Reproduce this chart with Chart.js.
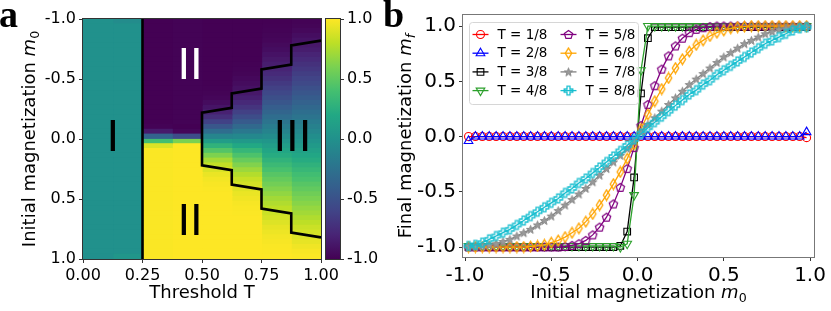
<!DOCTYPE html>
<html>
<head>
<meta charset="utf-8">
<script src="https://cdn.jsdelivr.net/npm/chart.js@4.4.0/dist/chart.umd.min.js"></script>
<style>
  body { margin: 0; background: #fff; width: 831px; height: 311px; overflow: hidden; position: relative; }
  canvas { position: absolute; top: 0; }
</style>
</head>
<body>
<canvas id="heat" width="346" height="311" style="left:0"></canvas>
<canvas id="cbar" width="56" height="311" style="left:324px"></canvas>
<canvas id="curves" width="451" height="311" style="left:380px"></canvas>
<script>
// initial magnetization m0 (rows of the map, x of the curves)
const m0 = [-0.98, -0.94, -0.90, -0.86, -0.82, -0.78, -0.74, -0.70, -0.66, -0.62,
  -0.58, -0.54, -0.50, -0.46, -0.42, -0.38, -0.34, -0.30, -0.26, -0.22,
  -0.18, -0.14, -0.10, -0.06, -0.02, 0.02, 0.06, 0.10, 0.14, 0.18,
  0.22, 0.26, 0.30, 0.34, 0.38, 0.42, 0.46, 0.50, 0.54, 0.58,
  0.62, 0.66, 0.70, 0.74, 0.78, 0.82, 0.86, 0.90, 0.94, 0.98]

const tValues = [1 / 8, 2 / 8, 3 / 8, 4 / 8, 5 / 8, 6 / 8, 7 / 8, 8 / 8]
const tLabels = ['T = 1/8', 'T = 2/8', 'T = 3/8', 'T = 4/8', 'T = 5/8', 'T = 6/8', 'T = 7/8', 'T = 8/8']

// final magnetization mf for each threshold
const mfT1 = [0, 0, 0, 0, 0, 0, 0, 0, 0, 0, 0, 0, 0, 0, 0, 0, 0, 0, 0, 0, 0, 0, 0, 0, 0,
  0, 0, 0, 0, 0, 0, 0, 0, 0, 0, 0, 0, 0, 0, 0, 0, 0, 0, 0, 0, 0, 0, 0, 0, -0.01]
const mfT2 = [-0.04, 0, 0, 0, 0, 0, 0, 0, 0, 0, 0, 0, 0, 0, 0, 0, 0, 0, 0, 0, 0, 0, 0, 0, 0,
  0, 0, 0, 0, 0, 0, 0, 0, 0, 0, 0, 0, 0, 0, 0, 0, 0, 0, 0, 0, 0, 0, 0, 0, 0.04]
const mfT3 = [-1, -1, -1, -1, -1, -1, -1, -1, -1, -1, -1, -1, -1, -1, -1, -1, -1, -1, -1, -1,
  -1, -1, -0.99, -0.86, -0.37, 0.39, 0.89, 0.99, 0.99, 0.99,
  0.99, 0.99, 0.99, 0.99, 0.99, 0.99, 0.99, 0.99, 0.99, 0.99,
  0.99, 0.99, 0.99, 0.99, 0.99, 0.99, 0.99, 0.99, 0.99, 0.99]
const mfT4 = [-0.99, -0.99, -0.99, -0.99, -0.99, -0.99, -0.99, -0.99, -0.99, -0.99,
  -0.99, -0.99, -0.99, -0.99, -0.99, -0.99, -0.99, -0.99, -0.99, -0.99,
  -0.99, -0.99, -1, -0.97, -0.53, 0.60, 1, 1, 1, 1,
  1, 1, 1, 1, 1, 1, 1, 1, 1, 1, 1, 1, 1, 1, 1, 1, 1, 1, 1, 1]
const mfT5 = [-1, -1, -1, -1, -1, -1, -1, -1, -1, -1, -1, -1, -1, -1,
  -0.995, -0.985, -0.97, -0.94, -0.89, -0.82, -0.73, -0.61, -0.46, -0.29, -0.10,
  0.10, 0.29, 0.46, 0.61, 0.73, 0.82, 0.89, 0.94, 0.97, 0.985, 0.995,
  1, 1, 1, 1, 1, 1, 1, 1, 1, 1, 1, 1, 1, 1]
const mfT6 = [-1, -1, -1, -1, -1, -1, -1, -1, -1,
  -0.995, -0.99, -0.98, -0.96, -0.94, -0.91, -0.87, -0.83, -0.77, -0.70, -0.62, -0.53, -0.43, -0.32, -0.20, -0.07,
  0.07, 0.20, 0.32, 0.43, 0.53, 0.62, 0.70, 0.77, 0.83, 0.87, 0.91, 0.94, 0.96, 0.98, 0.99, 0.995,
  1, 1, 1, 1, 1, 1, 1, 1, 1]
const mfT7 = [-1, -0.995, -0.99, -0.98, -0.97, -0.95, -0.93, -0.90, -0.87, -0.84, -0.80, -0.76, -0.72,
  -0.67, -0.62, -0.57, -0.52, -0.47, -0.41, -0.35, -0.29, -0.23, -0.17, -0.11, -0.04,
  0.04, 0.11, 0.17, 0.23, 0.29, 0.35, 0.41, 0.47, 0.52, 0.57, 0.62, 0.67, 0.72,
  0.76, 0.80, 0.84, 0.87, 0.90, 0.93, 0.95, 0.97, 0.98, 0.99, 0.995, 1]
const mfT8 = [-0.99, -0.98, -0.96, -0.93, -0.90, -0.87, -0.84, -0.80, -0.76, -0.72, -0.68, -0.64, -0.60,
  -0.56, -0.51, -0.47, -0.42, -0.38, -0.33, -0.28, -0.23, -0.18, -0.13, -0.08, -0.025,
  0.025, 0.08, 0.13, 0.18, 0.23, 0.28, 0.33, 0.38, 0.42, 0.47, 0.51, 0.56, 0.60,
  0.64, 0.68, 0.72, 0.76, 0.80, 0.84, 0.87, 0.90, 0.93, 0.96, 0.98, 0.99]
const mfSeries = [mfT1, mfT2, mfT3, mfT4, mfT5, mfT6, mfT7, mfT8]

// phase boundaries drawn on the map
const boundT = [1.0, 0.875, 0.875, 0.75, 0.75, 0.625, 0.625, 0.5, 0.5, 0.625, 0.625, 0.75, 0.75, 0.875, 0.875, 1.0]
const boundM = [-0.82, -0.78, -0.62, -0.58, -0.42, -0.38, -0.26, -0.22, 0.22, 0.26, 0.38, 0.42, 0.58, 0.62, 0.78, 0.82]
const edgeT = [0.25, 0.25]
const edgeM = [-1, 1]

const heatXTicks = [0, 0.25, 0.5, 0.75, 1]
const mTicks = [-1, -0.5, 0, 0.5, 1]
const cbRange = [-1, 1]

const FONT = 'DejaVu Sans'
const viridisStops = ['#440154', '#482475', '#414487', '#355f8d', '#2a788e', '#21918c',
  '#22a884', '#44bf70', '#7ad151', '#bddf26', '#fde725']

const hexRgb = h => [1, 3, 5].map(i => parseInt(h.slice(i, i + 2), 16))
const viridis = v => {
  const t = Math.min(1, Math.max(0, (v + 1) / 2)) * (viridisStops.length - 1)
  const i = Math.min(viridisStops.length - 2, Math.floor(t))
  const a = hexRgb(viridisStops[i]), b = hexRgb(viridisStops[i + 1]), f = t - i
  return `rgb(${a.map((c, k) => Math.round(c + (b[k] - c) * f)).join(',')})`
}

// marker shapes matplotlib has but chart.js does not
const marker = (draw) => {
  const c = document.createElement('canvas')
  c.width = c.height = 13
  const g = c.getContext('2d')
  g.translate(6.5, 6.5)
  g.lineWidth = 1
  draw(g)
  return c
}
const poly = (g, pts) => { g.beginPath(); pts.forEach(([x, y]) => g.lineTo(x, y)); g.closePath() }
const pentagon = marker(g => {
  const pts = []
  for (let i = 0; i < 5; i++) { const a = -Math.PI / 2 + i * 2 * Math.PI / 5; pts.push([4.4 * Math.cos(a), 4.4 * Math.sin(a) + 0.4]) }
  poly(g, pts); g.strokeStyle = '#800080'; g.lineWidth = 1.2; g.stroke()
})
const thinDiamond = marker(g => {
  poly(g, [[0, -5.2], [3.2, 0], [0, 5.2], [-3.2, 0]]); g.strokeStyle = '#ffa500'; g.lineWidth = 1.3; g.stroke()
})
const star = marker(g => {
  const pts = []
  for (let i = 0; i < 10; i++) { const r = i % 2 ? 1.8 : 4.4, a = -Math.PI / 2 + i * Math.PI / 5; pts.push([r * Math.cos(a), r * Math.sin(a) + 0.4]) }
  poly(g, pts); g.fillStyle = '#9a9a9a'; g.fill(); g.strokeStyle = '#8a8a8a'; g.stroke()
})
const plusP = marker(g => {
  const a = 1.5, b = 4.3
  poly(g, [[-a, -b], [a, -b], [a, -a], [b, -a], [b, a], [a, a], [a, b], [-a, b], [-a, a], [-b, a], [-b, -a], [-a, -a]])
  g.strokeStyle = '#17becf'; g.lineWidth = 1.3; g.stroke()
})

const seriesColors = ['#ff0000', '#0000ff', '#000000', '#2ca02c', '#800080', '#ffa500', '#808080', '#17becf']
const seriesMarkers = [
  { pointStyle: 'circle', pointRadius: 4 },
  { pointStyle: 'triangle', pointRadius: 5 },
  { pointStyle: 'rect', pointRadius: 4.7 },
  { pointStyle: 'triangle', pointRadius: 5, pointRotation: 180 },
  { pointStyle: pentagon, pointRadius: 4 },
  { pointStyle: thinDiamond, pointRadius: 4 },
  { pointStyle: star, pointRadius: 4 },
  { pointStyle: plusP, pointRadius: 4 },
]

// plugins
const frame = {
  id: 'frame',
  afterDraw(chart, args, opts) {
    const { ctx, chartArea: a } = chart
    ctx.save()
    ctx.strokeStyle = opts.color
    ctx.lineWidth = 1
    ctx.strokeRect(Math.round(a.left) - 0.5, Math.round(a.top) - 0.5, Math.round(a.right - a.left) + 1, Math.round(a.bottom - a.top) + 1)
    ctx.restore()
  }
}

const richText = {
  id: 'richText',
  afterDraw(chart, args, opts) {
    const { ctx, chartArea: a } = chart
    for (const t of opts.items || []) {
      ctx.save()
      const pieces = t.parts.map(([s, kind]) => {
        const small = kind[0] === 's'
        const f = `${kind.includes('i') ? 'italic ' : ''}${t.weight || ''} ${small ? t.size * 0.7 : t.size}px "${t.family || FONT}"`
        ctx.font = f
        return { s, f, w: ctx.measureText(s).width, dy: small ? t.size * 0.2 : 0 }
      })
      const total = pieces.reduce((acc, p) => acc + p.w, 0)
      let x
      if (t.vertical) {
        ctx.translate(t.base, (a.top + a.bottom) / 2)
        ctx.rotate(-Math.PI / 2)
        x = -total / 2
      } else if (t.left !== undefined) {
        ctx.translate(t.left, t.base)
        x = 0
      } else {
        ctx.translate((a.left + a.right) / 2, t.base)
        x = -total / 2
      }
      ctx.fillStyle = t.color || '#000'
      ctx.textBaseline = 'alphabetic'
      for (const p of pieces) { ctx.font = p.f; ctx.fillText(p.s, x, p.dy); x += p.w }
      ctx.restore()
    }
  }
}

const regionText = {
  id: 'regionText',
  afterDatasetsDraw(chart, args, opts) {
    const { ctx, scales } = chart
    ctx.save()
    ctx.font = `${opts.size}px "${FONT}"`
    ctx.textAlign = 'center'
    ctx.textBaseline = 'alphabetic'
    for (const r of opts.items) {
      ctx.fillStyle = r.color
      ctx.fillText(r.text, scales.x.getPixelForValue(r.t), scales.y.getPixelForValue(r.m) + opts.size * 0.365)
    }
    ctx.restore()
  }
}

const boxLegend = {
  id: 'boxLegend',
  afterDatasetsDraw(chart, args, o) {
    const { ctx, chartArea: a } = chart
    const x0 = Math.round(a.left + o.dx) + 0.5, y0 = Math.round(a.top + o.dy) + 0.5
    ctx.save()
    ctx.beginPath()
    ctx.roundRect(x0, y0, o.w, o.h, 3)
    ctx.fillStyle = 'rgba(255,255,255,0.8)'
    ctx.fill()
    ctx.strokeStyle = '#d6d6d6'
    ctx.lineWidth = 1
    ctx.stroke()
    chart.data.datasets.forEach((ds, i) => {
      const col = Math.floor(i / o.rows), row = i % o.rows
      const mx = x0 + o.colX[col], my = y0 + o.rowY0 + row * o.rowH
      ctx.strokeStyle = ds.borderColor
      ctx.lineWidth = ds.borderWidth
      ctx.beginPath(); ctx.moveTo(mx - 8, my); ctx.lineTo(mx + 8, my); ctx.stroke()
      ctx.lineWidth = ds.pointBorderWidth
      ctx.fillStyle = 'rgba(0,0,0,0)'
      Chart.helpers.drawPoint(ctx, { pointStyle: ds.pointStyle, radius: ds.pointRadius, rotation: ds.pointRotation || 0, borderWidth: ds.pointBorderWidth }, mx, my)
      ctx.fillStyle = '#000'
      ctx.font = `${o.size}px "${FONT}"`
      ctx.textBaseline = 'middle'
      ctx.fillText(ds.label, mx + o.textGap, my + 0.5)
    })
    ctx.restore()
  }
}

const tickSet = values => scale => { scale.ticks = values.map(v => ({ value: v })) }
const axisStyle = (size, fit, values, digits) => ({
  offset: false,
  afterFit: fit,
  afterBuildTicks: tickSet(values),
  ticks: { callback: v => v.toFixed(digits), font: { family: FONT, size }, color: '#000', padding: 3, maxRotation: 0, autoSkip: false },
  grid: { drawOnChartArea: false, offset: false, tickLength: 4, color: '#333' },
  border: { display: false },
})

// panel a: map
const tStep = tValues[1] - tValues[0]
const rowHalf = (m0[1] - m0[0]) / 2
new Chart(document.getElementById('heat'), {
  type: 'bar',
  data: {
    datasets: [
      ...tValues.map((t, k) => ({
        data: m0.map(m => ({ x: t - tStep / 2, y: [m - rowHalf, m + rowHalf] })),
        backgroundColor: mfSeries[k].map(viridis),
        borderWidth: 0,
        inflateAmount: 0.6,
        grouped: false,
        barPercentage: 1,
        categoryPercentage: 1,
        order: 2,
      })),
      { type: 'line', data: boundT.map((t, i) => ({ x: t, y: boundM[i] })), borderColor: '#000', borderWidth: 2.6, pointRadius: 0, order: 1 },
      { type: 'line', data: edgeT.map((t, i) => ({ x: t, y: edgeM[i] })), borderColor: '#000', borderWidth: 2.6, pointRadius: 0, order: 1 },
    ],
  },
  options: {
    responsive: false,
    animation: false,
    layout: { padding: { left: 0, right: 25, top: 19, bottom: 0 } },
    scales: {
      x: { type: 'linear', min: 0, max: 1, ...axisStyle(16, s => { s.height = 52 }, heatXTicks, 2) },
      y: { type: 'linear', min: -1, max: 1, reverse: true, ...axisStyle(16, s => { s.width = 83 }, mTicks, 1) },
    },
    plugins: {
      legend: { display: false },
      tooltip: { enabled: false },
      frame: { color: '#333' },
      regionText: {
        size: 43,
        items: [
          { text: 'I', t: 0.125, m: -0.03, color: '#000' },
          { text: 'II', t: 0.45, m: -0.63, color: '#fff' },
          { text: 'II', t: 0.45, m: 0.67, color: '#000' },
          { text: 'III', t: 0.88, m: -0.03, color: '#000' },
        ],
      },
      richText: {
        items: [
          { parts: [['Threshold T', 'n']], size: 18, base: 298 },
          { parts: [['Initial magnetization ', 'n'], ['m', 'i'], ['0', 's']], size: 18, base: 35, vertical: true },
          { parts: [['a', 'n']], size: 38, weight: 'bold', family: 'Liberation Serif', base: 27, left: -1 },
        ],
      },
    },
  },
  plugins: [frame, regionText, richText],
})

// colour bar
new Chart(document.getElementById('cbar'), {
  type: 'bar',
  data: {
    labels: [''],
    datasets: [{
      data: [cbRange],
      backgroundColor: (c) => {
        const a = c.chart.chartArea
        if (!a) return viridisStops[5]
        const g = c.chart.ctx.createLinearGradient(0, a.bottom, 0, a.top)
        viridisStops.forEach((s, i) => g.addColorStop(i / (viridisStops.length - 1), s))
        return g
      },
      borderWidth: 0,
      barPercentage: 1,
      categoryPercentage: 1,
    }],
  },
  options: {
    responsive: false,
    animation: false,
    layout: { padding: { left: 2, right: 0, top: 19, bottom: 52 } },
    scales: {
      x: { display: false },
      y: { position: 'right', min: cbRange[0], max: cbRange[1], ...axisStyle(16, s => { s.width = 40 }, mTicks, 1) },
    },
    plugins: { legend: { display: false }, tooltip: { enabled: false }, frame: { color: '#333' } },
  },
  plugins: [frame],
})

// panel b: curves
new Chart(document.getElementById('curves'), {
  type: 'line',
  data: {
    datasets: tLabels.map((label, k) => ({
      label,
      data: m0.map((m, i) => ({ x: m, y: mfSeries[k][i] })),
      borderColor: seriesColors[k],
      borderWidth: 1.3,
      pointBorderColor: seriesColors[k],
      pointBackgroundColor: 'rgba(0,0,0,0)',
      pointBorderWidth: 1.1,
      ...seriesMarkers[k],
      order: tLabels.length - k,
    })),
  },
  options: {
    responsive: false,
    animation: false,
    layout: { padding: { left: 0, right: 17, top: 13, bottom: 0 } },
    scales: {
      x: { type: 'linear', min: -1.012, max: 1.023, ...axisStyle(20, s => { s.height = 54 }, mTicks, 1) },
      y: { type: 'linear', min: -1.09, max: 1.10, ...axisStyle(20, s => { s.width = 83 }, mTicks, 1) },
    },
    plugins: {
      legend: { display: false },
      tooltip: { enabled: false },
      frame: { color: '#777' },
      boxLegend: { dx: 6, dy: 7, w: 169, h: 82, rows: 4, rowH: 18.7, rowY0: 12, colX: [11, 99], textGap: 17, size: 13.5 },
      richText: {
        items: [
          { parts: [['Initial magnetization ', 'n'], ['m', 'i'], ['0', 's']], size: 18, base: 298 },
          { parts: [['Final magnetization ', 'n'], ['m', 'i'], ['f', 'si']], size: 18, base: 31, vertical: true },
          { parts: [['b', 'n']], size: 38, weight: 'bold', family: 'Liberation Serif', base: 27, left: 3 },
        ],
      },
    },
  },
  plugins: [frame, boxLegend, richText],
})
</script>
</body>
</html>
